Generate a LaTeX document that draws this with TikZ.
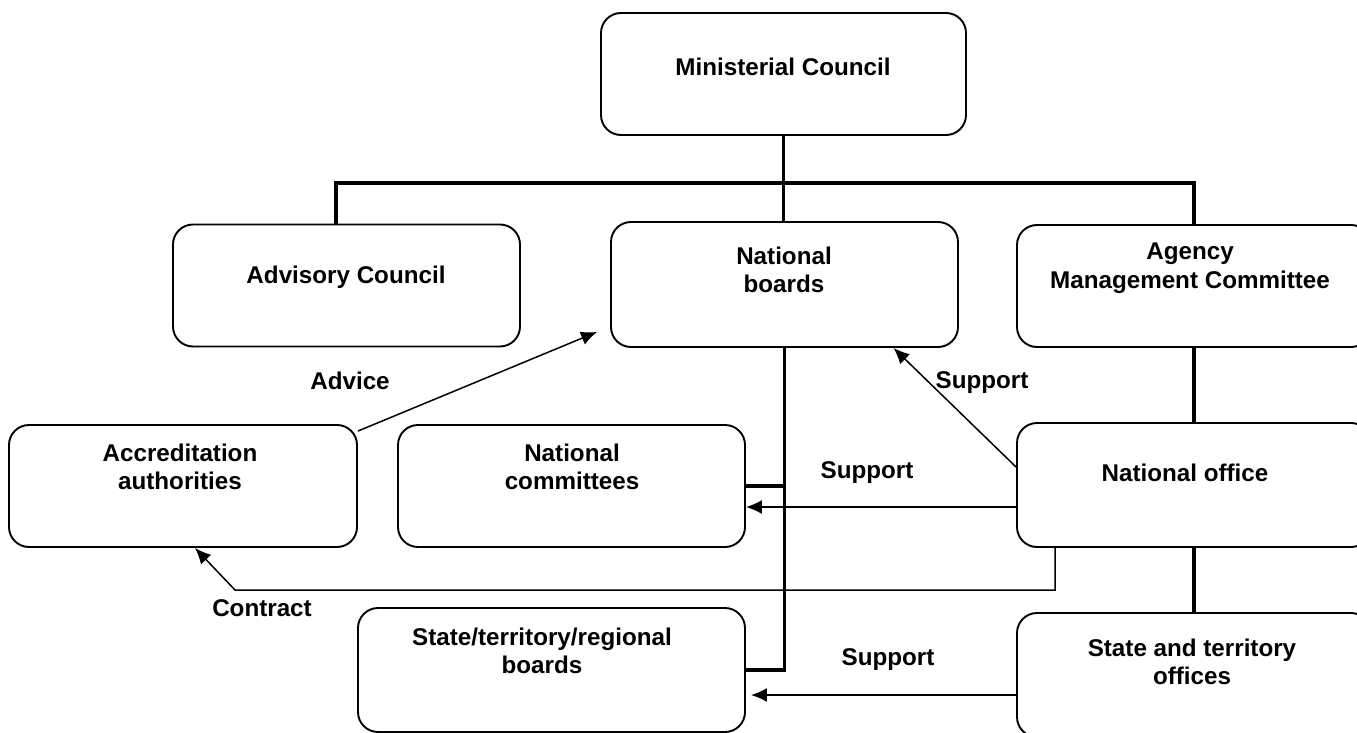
\documentclass[tikz,border=0pt]{standalone}
\usepackage{fontspec}
\setmainfont{Liberation Sans}
\usetikzlibrary{arrows.meta}

\begin{document}
\begin{tikzpicture}[x=1pt,y=-1pt,
        every node/.style={align=center,font=\fontsize{24.2}{28.5}\selectfont\bfseries},
        orgbox/.style={draw,line width=1.9pt,rounded corners=20pt,inner sep=0pt,
              minimum width=347pt,minimum height=122pt},
        tree/.style={line width=3.8pt},
        arr/.style={-{Latex[length=16pt,width=14pt]},line width=1.5pt}]
        \fill[white] (0,0) rectangle (1357,733);
        \useasboundingbox (0,0) rectangle (1357,733);

        \node[orgbox,minimum width=365pt] (mc) at (783.5,74) {};
        \node (mctext) at (783,67) {Ministerial Council};
        \node[orgbox] (adv) at (346.5,285.5) {};
        \node (advtext) at (346,277) {Advisory Council};
        \node[orgbox,minimum height=125pt] (nb) at (784.5,284.5) {};
        \node (nbtext) at (784,270) {National\\boards};
        \node[orgbox,minimum width=354pt] (amc) at (1194,286) {};
        \node (amctext) at (1190,268) {Agency\\Management Committee};
        \node[orgbox,minimum width=348pt] (acc) at (183,486) {};
        \node (acctext) at (180,467) {Accreditation\\authorities};
        \node[orgbox] (nc) at (571.5,486) {};
        \node (nctext) at (572,467) {National\\committees};
        \node[orgbox,minimum width=354pt,minimum height=124pt] (no) at (1194,485) {};
        \node (notext) at (1185,473) {National office};
        \node[orgbox,minimum width=387pt,minimum height=124pt] (str) at (551.5,670) {};
        \node (strtext) at (542,651) {State/territory/regional\\boards};
        \node[orgbox,minimum width=354pt,minimum height=124pt] (sto) at (1194,675) {};
        \node (stotext) at (1192,662) {State and territory\\offices};

        % reporting lines
        \coordinate (busl) at (336,183);
        \coordinate (busr) at (1194,183);
        \draw[tree] (mc.south) -- (mc.south |- nb.north);
        \draw[tree] (busl |- adv.north) -- (busl) -- (busr) -- (busr |- amc.north);
        \draw[tree] (amc) -- (no);
        \draw[tree] (no) -- (sto);
        \draw[tree] (nb.south) |- (str.east);
        \draw[tree] (nb.south |- nc.east) -- (nc.east);

        % advice, support and contract
        \coordinate (bend) at (235,590);
        \draw[arr] ([yshift=-7pt]acc.north east) -- ([shift={(-13,-16)}]nb.south west);
        \draw[arr] ([yshift=18pt]no.west) -- ([xshift=109pt]nb.south);
        \draw[arr] ([yshift=-22pt]no.west) -- ([yshift=-21pt]nc.east);
        \draw[arr] ([yshift=-20pt]sto.west) -- ([xshift=5pt,yshift=-25pt]str.east);
        \draw[arr] ([xshift=-139pt]no.south) |- (bend) -- ([xshift=12pt]acc.south);

        \node (advice) at (350,381) {Advice};
        \node (sup1) at (982,383) {Support};
        \node (sup2) at (867,473) {Support};
        \node (sup3) at (888,660) {Support};
        \node (contract) at (262,608) {Contract};
      \end{tikzpicture}
\end{document}
